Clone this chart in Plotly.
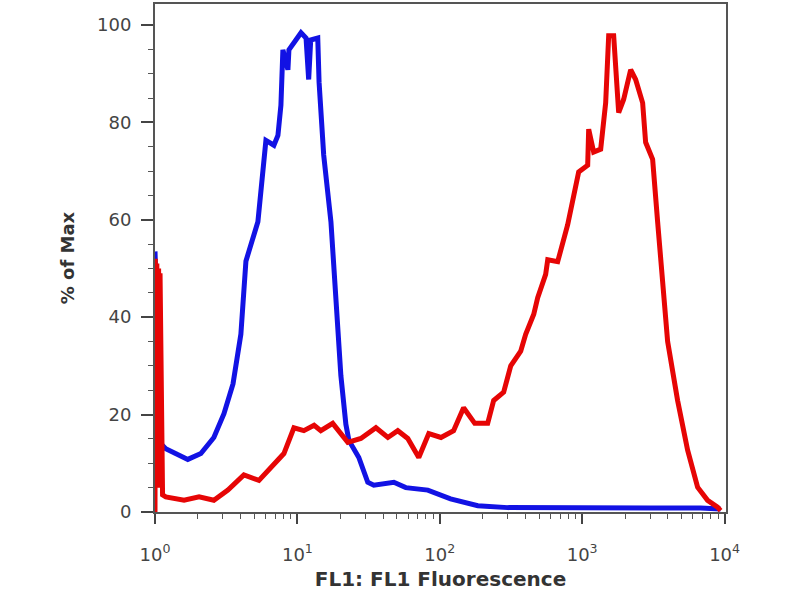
import plotly.graph_objects as go

# FL1 fluorescence (x) and % of Max (y)
blue_x = [1.0, 1.10, 1.19, 1.40, 1.70, 2.10, 2.59, 3.05, 3.53, 4.01, 4.35, 5.28, 5.73, 6.01,
          6.84, 7.30, 7.66, 7.91, 8.58, 8.72, 9.76, 10.6, 11.5, 12.0, 12.4, 13.9, 14.2, 15.3,
          17.2, 18.6, 20.2, 21.9, 23.0, 27.0, 31.2, 34.4, 47.6, 57.7, 82.4, 119, 185, 300,
          601, 1349, 3025, 6785, 9374]
blue_y = [53.5, 14.0, 13.0, 12.0, 10.8, 12.0, 15.3, 20.2, 26.3, 36.5, 51.5, 59.6, 69.8, 76.3,
          75.3, 77.3, 83.5, 94.9, 90.8, 94.9, 96.9, 98.4, 97.3, 88.8, 96.9, 97.3, 88.2, 73.3,
          59.6, 45.0, 28.0, 18.0, 14.7, 11.2, 6.1, 5.5, 6.1, 5.0, 4.5, 2.7, 1.3, 0.9,
          0.8, 0.8, 0.8, 0.8, 0.6]

red_x = [1.0, 1.005, 1.02, 1.03, 1.045, 1.06, 1.075, 1.085, 1.13, 1.19, 1.60, 2.04, 2.59,
         3.25, 4.21, 5.37, 6.84, 8.04,
         9.45, 11.1, 13.1, 14.6, 17.7, 22.6, 27.9, 35.6, 43.2, 50.7, 59.6, 71.2, 83.7, 102,
         125, 147, 176, 217, 239, 281, 315, 370, 401, 457, 487, 554, 573, 673, 791, 945,
         1093, 1111, 1204, 1349, 1462, 1535, 1664, 1804, 1955, 2190, 2374, 2658, 2790, 3124,
         3387, 3672, 3981, 4679, 5502, 6464, 7598, 8930, 9374]
red_y = [0.0, 52.0, 5.0, 51.0, 5.0, 50.0, 5.0, 49.0, 3.5, 3.1, 2.4, 3.1, 2.4,
         4.5, 7.6, 6.5, 10.0, 12.0,
         17.3, 16.7, 17.8, 16.7, 18.2, 14.3, 15.1, 17.3, 15.3, 16.7, 15.1, 11.2, 16.1, 15.3,
         16.7, 21.4, 18.2, 18.2, 22.9, 24.6, 30.0, 33.0, 36.5, 40.6, 44.0, 48.8, 51.8, 51.4,
         59.0, 69.8, 71.2, 78.6, 73.9, 74.5, 84.0, 97.8, 97.8, 82.0, 84.7, 90.8, 88.8, 84.0,
         75.9, 72.4, 59.6, 47.0, 35.0, 22.9, 12.7, 5.1, 2.4, 1.0, 0.3]

x_tick_vals = [1, 10, 100, 1000, 10000]
x_tick_text = ["10<sup>0</sup>", "10<sup>1</sup>", "10<sup>2</sup>", "10<sup>3</sup>", "10<sup>4</sup>"]
y_tick_vals = [0, 20, 40, 60, 80, 100]

fig = go.Figure()
fig.add_trace(go.Scatter(x=blue_x, y=blue_y, mode="lines",
                         line=dict(color="#1212e4", width=5), showlegend=False))
fig.add_trace(go.Scatter(x=red_x, y=red_y, mode="lines",
                         line=dict(color="#e60505", width=5), showlegend=False))

font_family = "DejaVu Sans"
fig.update_layout(
    width=800, height=600,
    margin=dict(l=155, r=74, t=2, b=88),
    paper_bgcolor="white", plot_bgcolor="white",
    font=dict(family=font_family, color="#3a3a3a", size=18),
    xaxis=dict(
        type="log", range=[0, 4.01],
        tickmode="array", tickvals=x_tick_vals, ticktext=x_tick_text,
        ticks="outside", ticklen=10, tickwidth=1.5, tickcolor="#444",
        ticklabelstandoff=15,
        minor=dict(ticks="outside", ticklen=5, tickwidth=1.2, tickcolor="#555", dtick="D1"),
        showline=True, linecolor="#555", linewidth=2, mirror=True,
        showgrid=False, zeroline=False,
        tickfont=dict(size=18, color="#444"),
        title=dict(text="FL1: FL1 Fluorescence", standoff=8,
                   font=dict(size=20, color="#333", weight=700)),
    ),
    yaxis=dict(
        range=[0, 104.3],
        tickmode="array", tickvals=y_tick_vals,
        ticks="outside", ticklen=12, tickwidth=1.5, tickcolor="#444",
        ticklabelstandoff=6,
        minor=dict(ticks="outside", ticklen=5, tickwidth=1.2, tickcolor="#555", dtick=5),
        showline=True, linecolor="#555", linewidth=2, mirror=True,
        showgrid=False, zeroline=False,
        tickfont=dict(size=18, color="#444"),
        title=dict(text="% of Max", standoff=18,
                   font=dict(size=18, color="#333", weight=700)),
    ),
)

fig.write_html("out.html", config={"displayModeBar": False},
               post_script="document.body.style.margin='0';")
